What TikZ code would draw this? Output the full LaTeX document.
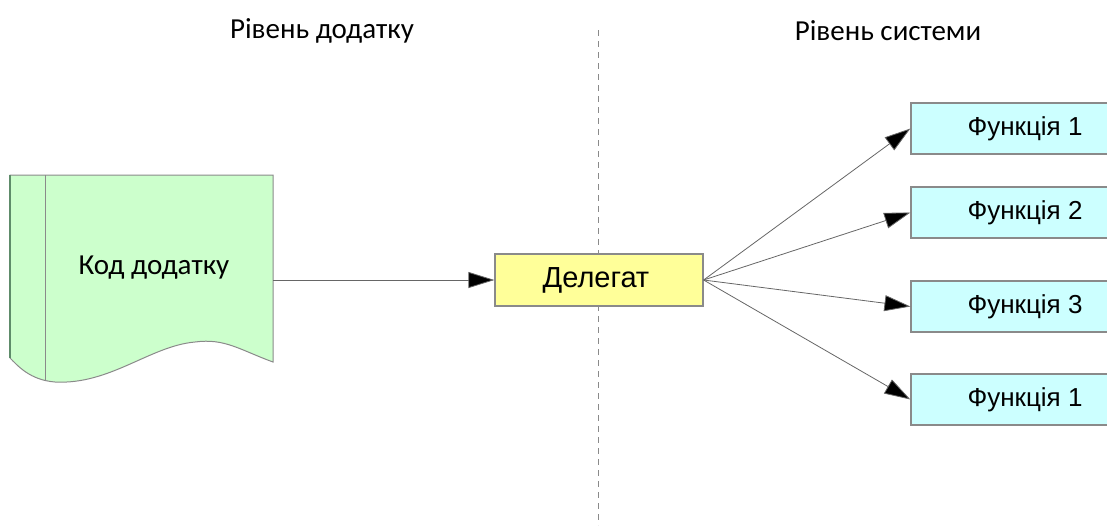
\documentclass[tikz,border=0pt]{standalone}
\usepackage{fontspec}
\setmainfont{Carlito}
\newfontfamily\arialfont{Liberation Sans}
\usetikzlibrary{arrows.meta}
\definecolor{docgreen}{HTML}{CCFFCC}
\definecolor{dgyellow}{HTML}{FFFF99}
\definecolor{fncyan}{HTML}{CCFFFF}
\definecolor{edgegray}{HTML}{8A8A8A}
\definecolor{leftgreen}{HTML}{5E8C6A}
\tikzset{
  lbl/.style={font=\fontsize{29}{33}\selectfont, text=black},
  albl/.style={font=\arialfont\fontsize{26}{30}\selectfont, text=black},
  box/.style={draw=edgegray, line width=1.2pt, minimum height=51pt, inner sep=0pt},
  fnbox/.style={box, fill=fncyan, minimum width=205pt},
  conn/.style={draw=black!60, line width=0.8pt, -{Triangle[length=26pt,width=16pt,fill=black]}},
}
\begin{document}
\begin{tikzpicture}[x=1pt,y=-1pt]
\useasboundingbox (0,0) rectangle (1107,525);
% divider
\draw[edgegray, line width=1pt, dash pattern=on 6pt off 5pt] (598,30) -- (598,525);
% headers
\node[lbl] (h1) at (322,31) {Рівень додатку};
\node[lbl] (h2) at (888,31) {Рівень системи};
% document shape
\filldraw[fill=docgreen, draw=edgegray, line width=1pt]
  (10,175) -- (273,175) -- (273,362)
  .. controls (240,350) and (225,338) .. (195,342)
  .. controls (150,346) and (110,385) .. (55,382)
  .. controls (30,380) and (18,366) .. (10,358) -- cycle;
\draw[leftgreen, line width=2.5pt] (10,175) -- (10,358);
\draw[edgegray, line width=1pt] (45,175) -- (45,381);
\node[lbl] (code) at (154,268) {Код додатку};
\coordinate (codeout) at (273,280);
% delegate
\node[box, fill=dgyellow, minimum width=208pt, minimum height=52pt, albl, font=\arialfont\fontsize{29}{33}\selectfont] (del) at (599,280) {Делегат\hspace*{6pt}};
% function boxes
\node[fnbox, albl] (f1) at (1013.5,128.5) {\hspace*{23pt}Функція 1};
\node[fnbox, albl] (f2) at (1013.5,212.5) {\hspace*{23pt}Функція 2};
\node[fnbox, albl] (f3) at (1013.5,306.5) {\hspace*{23pt}Функція 3};
\node[fnbox, albl] (f4) at (1013.5,399.5) {\hspace*{23pt}Функція 1};
% connectors
\draw[conn] (codeout) -- (del.west);
\draw[conn] (del.east) -- (f1.west);
\draw[conn] (del.east) -- (f2.west);
\draw[conn] (del.east) -- (f3.west);
\draw[conn] (del.east) -- (f4.west);
\end{tikzpicture}
\end{document}
